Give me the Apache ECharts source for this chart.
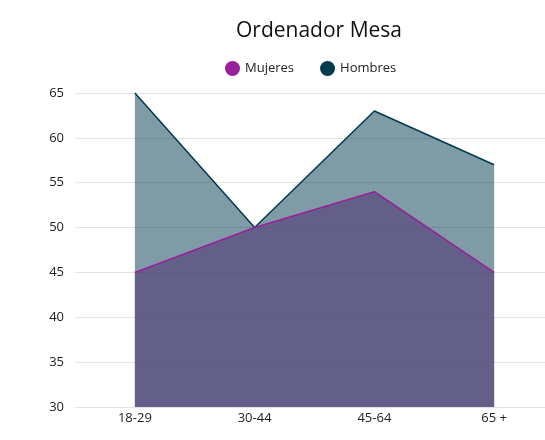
<!DOCTYPE html>
<html>
<head>
<meta charset="utf-8">
<script src="https://cdn.jsdelivr.net/npm/echarts@6/dist/echarts.min.js"></script>
<style>
  html, body { margin: 0; padding: 0; background: #fff; }
  #chart { width: 545px; height: 440px; }
</style>
</head>
<body>
<div id="chart"></div>
<script>
const categories = ['18-29', '30-44', '45-64', '65 +'];
const mujeres = [45, 50, 54, 45];
const hombres = [65, 50, 63, 57];
const yTicks = { min: 30, max: 65, interval: 5 };

const font = 'Open Sans';

echarts.init(document.querySelector('#chart')).setOption({
    title: {
        text: 'Ordenador Mesa',
        left: 314,
        textAlign: 'center',
        top: 16,
        textStyle: { fontFamily: font, fontSize: 21, fontWeight: 'normal', color: '#111' },
    },
    legend: {
        data: ['Mujeres', 'Hombres'],
        top: 56,
        left: 220,
        icon: 'circle',
        itemWidth: 15,
        itemHeight: 15,
        itemGap: 26,
        textStyle: { fontFamily: font, fontSize: 13, color: '#222' },
    },
    grid: { left: 75, width: 479, top: 93, bottom: 33, outerBoundsMode: 'none' },
    xAxis: {
        type: 'category',
        data: categories,
        boundaryGap: true,
        axisLine: { show: false },
        axisTick: { show: false },
        axisLabel: { fontFamily: font, fontSize: 13, color: '#222', margin: 5 },
    },
    yAxis: {
        type: 'value',
        min: yTicks.min,
        max: yTicks.max,
        interval: yTicks.interval,
        axisLabel: { fontFamily: font, fontSize: 13, color: '#222', margin: 11 },
        splitLine: { lineStyle: { color: '#e3e3e3' } },
    },
    series: [
        {
            name: 'Hombres',
            type: 'line',
            data: hombres,
            symbol: 'none',
            color: '#003a4d',
            lineStyle: { color: '#003a4d', width: 1.5 },
            areaStyle: { color: 'rgba(0,58,77,0.5)', opacity: 1, origin: 'start' },
        },
        {
            name: 'Mujeres',
            type: 'line',
            data: mujeres,
            symbol: 'none',
            color: '#98209a',
            lineStyle: { color: '#98209a', width: 1.6 },
            areaStyle: { color: 'rgba(88,70,125,0.7)', opacity: 1, origin: 'start' },
        },
    ],
});
</script>
</body>
</html>
